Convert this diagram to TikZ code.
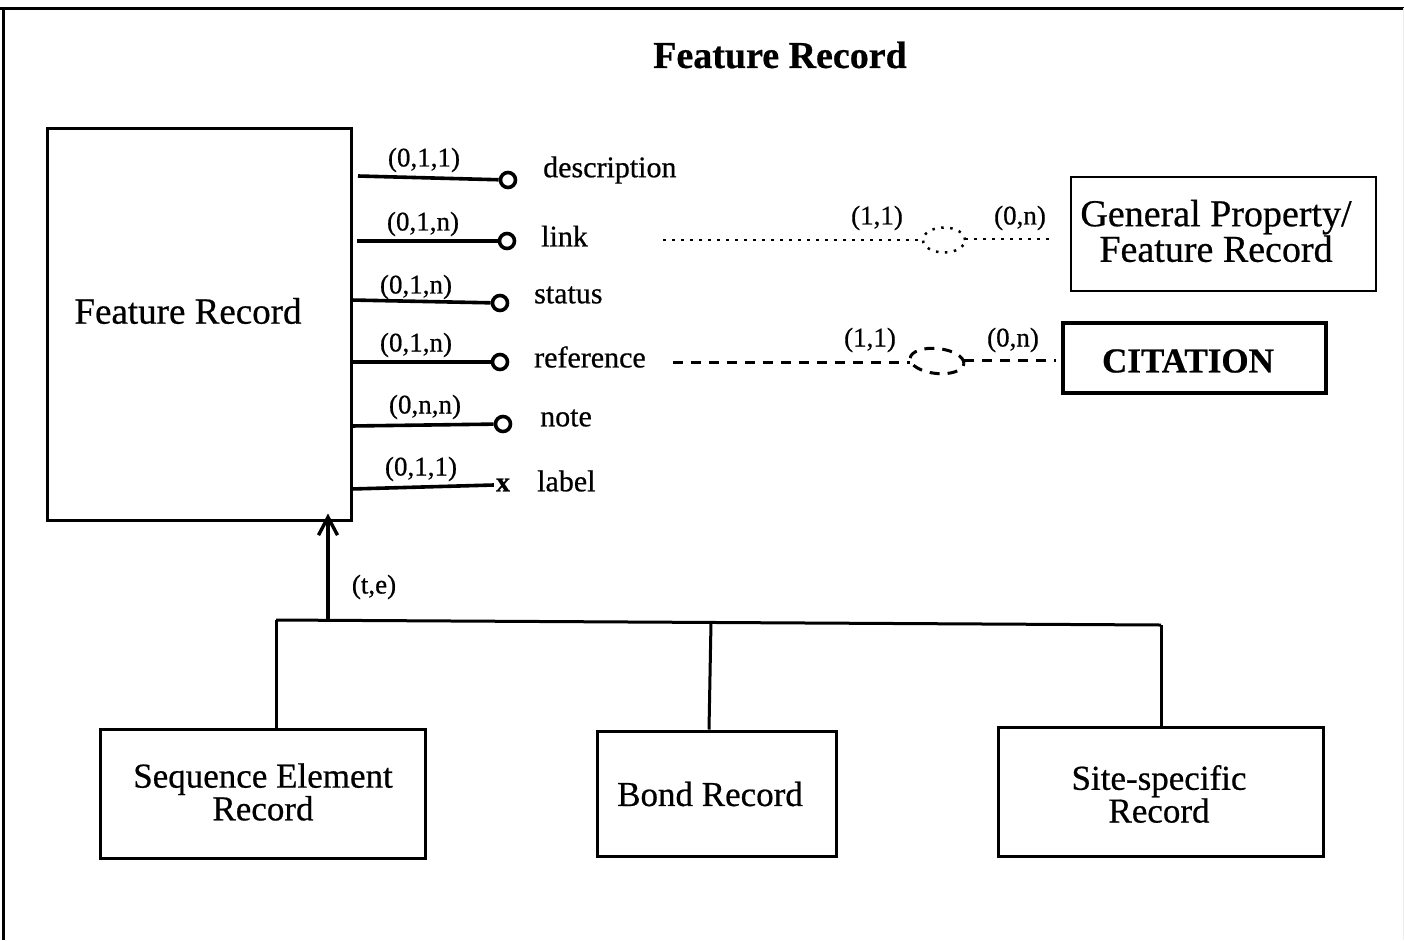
\documentclass[tikz,border=0pt]{standalone}
\usepackage{fontspec}
\setmainfont{Liberation Serif}[FakeBold=0.6]
\usetikzlibrary{arrows.meta}
\begin{document}
\begin{tikzpicture}[x=1pt,y=-1pt,
  box/.style={draw, line width=3pt, inner sep=0pt},
  txt/.style={inner sep=0pt, align=center},
  attr/.style={inner sep=0pt, anchor=west, font=\fontsize{30}{30}\selectfont},
  card/.style={inner sep=0pt, font=\fontsize{27}{27}\selectfont},
  ring/.style={circle, draw, line width=3.6pt, minimum size=15pt, inner sep=0pt},
  stem/.style={line width=3.6pt},
  dotline/.style={line width=2.5pt, dash pattern=on 2.5pt off 6.5pt},
  dashline/.style={line width=3pt, dash pattern=on 10pt off 8pt},
  wire/.style={line width=3pt}
]
\useasboundingbox (0,0) rectangle (1404,940);

% page frame
\draw[line width=3pt] (0,8) -- (1404,8);
\draw[line width=3pt] (3,8) -- (3,940);
\draw[gray!15, line width=1pt] (1403,8) -- (1403,940);

% title
\node[txt, font=\bfseries\fontsize{38}{38}\selectfont] (title) at (780,55) {Feature Record};

% main entity
\node[box, minimum width=304pt, minimum height=392pt] (main) at (199,324) {};
\node[txt, font=\fontsize{37}{37}\selectfont] (mainlbl) at (188,311) {Feature Record};

% attributes
\coordinate (s1) at (358,176);
\coordinate (s2) at (357,241);
\coordinate (s3) at (351,300);
\coordinate (s4) at (351,362);
\coordinate (s5) at (351,426);
\coordinate (s6) at (351,489);

\node[ring] (r1) at (508,180) {};
\node[ring] (r2) at (507,241) {};
\node[ring] (r3) at (500,303) {};
\node[ring] (r4) at (500,362) {};
\node[ring] (r5) at (503,424) {};
\node[inner sep=0pt, font=\bfseries\fontsize{28}{28}\selectfont] (r6) at (503,485) {x};

\draw[stem] (s1) -- (r1);
\draw[stem] (s2) -- (r2);
\draw[stem] (s3) -- (r3);
\draw[stem] (s4) -- (r4);
\draw[stem] (s5) -- (r5);
\draw[stem] (s6) -- ([xshift=-2pt]r6.west);

\node[card] (k1) at (424,160) {(0,1,1)};
\node[card] (k2) at (423,224) {(0,1,n)};
\node[card] (k3) at (416,287) {(0,1,n)};
\node[card] (k4) at (416,345) {(0,1,n)};
\node[card] (k5) at (425,407) {(0,n,n)};
\node[card] (k6) at (421,469) {(0,1,1)};

\node[attr] (a1) at (543,170) {description};
\node[attr] (a2) at (541,236) {link};
\node[attr] (a3) at (534,295) {status};
\node[attr] (a4) at (534,357) {reference};
\node[attr] (a5) at (540,418) {note};
\node[attr] (a6) at (537,481) {label};

% related entities
\node[box, line width=2.5pt, minimum width=305pt, minimum height=114pt] (gen) at (1223.5,234) {};
\node[txt, font=\fontsize{38}{31}\selectfont] (genlbl) at (1216,231) {General Property/\\Feature Record};

\node[box, line width=3.5pt, minimum width=263pt, minimum height=70pt] (cit) at (1194.5,358) {};
\node[txt, font=\bfseries\fontsize{35}{35}\selectfont] (citlbl) at (1188,361) {CITATION};

% link relationship (dotted)
\coordinate (lk0) at (663,240);
\coordinate (lkw) at (923,240);
\coordinate (lke) at (965,239);
\draw[dotline] (lk0) -- (lkw);
\draw[dotline] (944,240) ellipse [x radius=21pt, y radius=12.5pt];
\draw[dotline] (lke) -- ([xshift=-18pt]gen.west |- lke);
\node[card] (lk1) at (877,218) {(1,1)};
\node[card] (lkn) at (1020,218) {(0,n)};

% reference relationship (dashed)
\coordinate (rf0) at (673,362);
\coordinate (rfw) at (910,362);
\coordinate (rfe) at (964,360);
\draw[dashline] (rf0) -- (rfw);
\draw[dashline, rotate around={-6:(937,361)}] (937,361) ellipse [x radius=27pt, y radius=12.5pt];
\draw[dashline] (rfe) -- ([xshift=-5pt]cit.west |- rfe);
\node[card] (rf1) at (870,340) {(1,1)};
\node[card] (rfn) at (1013,340) {(0,n)};

% subtypes
\node[box, minimum width=325pt, minimum height=129pt] (seq) at (262.5,793.5) {};
\node[txt, font=\fontsize{35}{31}\selectfont] (seqlbl) at (263,792) {Sequence Element\\Record};

\node[box, minimum width=239pt, minimum height=125pt] (bond) at (716.5,793.5) {};
\node[txt, font=\fontsize{35}{35}\selectfont] (bondlbl) at (710,794) {Bond Record};

\node[box, minimum width=325pt, minimum height=129pt] (site) at (1160.5,791.5) {};
\node[txt, font=\fontsize{35}{31}\selectfont] (sitelbl) at (1159,794) {Site-specific\\Record};

% generalisation bus
\coordinate (busL) at (276,620);
\coordinate (busM) at (711,622);
\coordinate (busR) at (1161,625);
\coordinate (busA) at (328,620.6);
\draw[wire] (busL) -- (busR);
\draw[wire] (busL) -- (busL |- seq.north);
\draw[wire] (busM) -- ([xshift=-2pt]busM |- bond.north);
\draw[wire] (busR) -- (busR |- site.north);
\draw[wire, line width=3.4pt, -{Straight Barb[length=18pt, width=19pt, line width=3.4pt]}] (busA) -- ([yshift=8pt]busA |- main.south);
\node[card] (te) at (374,587) {(t,e)};

\end{tikzpicture}
\end{document}
